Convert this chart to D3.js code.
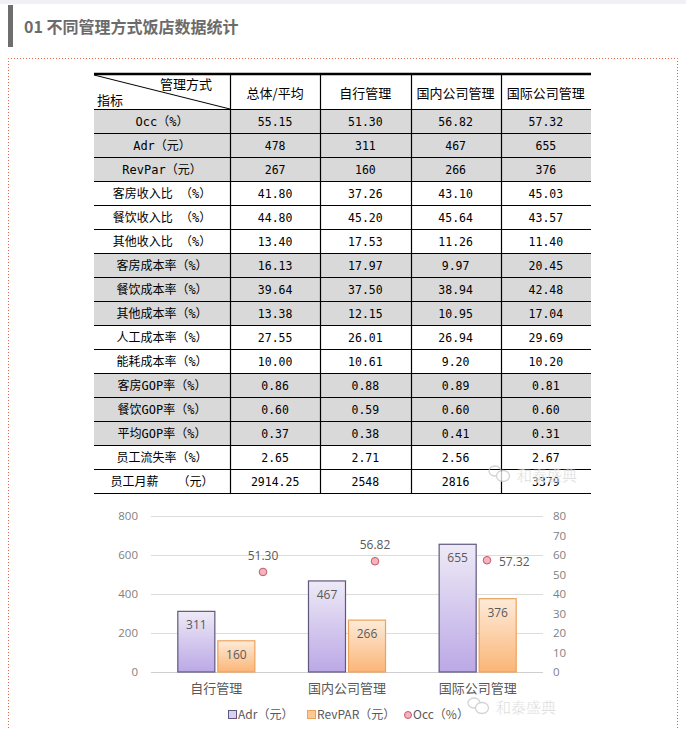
<!DOCTYPE html>
<html lang="zh">
<head>
<meta charset="UTF-8">
<script src="https://cdn.jsdelivr.net/npm/d3@7"></script>
<title>不同管理方式饭店数据统计</title>
<style>
    body { margin: 0; background: #fff; }
    svg { display: block; }
</style>
</head>
<body>
<script>
// ---- data ----
let colHeaders = ["总体/平均", "自行管理", "国内公司管理", "国际公司管理"]
let rowLabels = ["Occ（%）", "Adr（元）", "RevPar（元）", "客房收入比 （%）", "餐饮收入比 （%）",
    "其他收入比 （%）", "客房成本率（%）", "餐饮成本率（%）", "其他成本率（%）", "人工成本率（%）",
    "能耗成本率（%）", "客房GOP率（%）", "餐饮GOP率（%）", "平均GOP率（%）", "员工流失率（%）", "员工月薪　 （元）"]
let totalVals = ["55.15", "478", "267", "41.80", "44.80", "13.40", "16.13", "39.64", "13.38", "27.55", "10.00", "0.86", "0.60", "0.37", "2.65", "2914.25"]
let selfVals = ["51.30", "311", "160", "37.26", "45.20", "17.53", "17.97", "37.50", "12.15", "26.01", "10.61", "0.88", "0.59", "0.38", "2.71", "2548"]
let domesticVals = ["56.82", "467", "266", "43.10", "45.64", "11.26", "9.97", "38.94", "10.95", "26.94", "9.20", "0.89", "0.60", "0.41", "2.56", "2816"]
let intlVals = ["57.32", "655", "376", "45.03", "43.57", "11.40", "20.45", "42.48", "17.04", "29.69", "10.20", "0.81", "0.60", "0.31", "2.67", "3379"]
let shadedRows = [0, 1, 2, 6, 7, 8, 11, 12, 13]

let categories = ["自行管理", "国内公司管理", "国际公司管理"]
let adrVals = [311, 467, 655]
let revparVals = [160, 266, 376]
let occVals = [51.30, 56.82, 57.32]
let leftTicks = [0, 200, 400, 600, 800]
let rightTicks = [0, 10, 20, 30, 40, 50, 60, 70, 80]

let width = 686
let height = 730
let cjk = "'Noto Sans CJK SC', sans-serif"
let mono = "'DejaVu Sans Mono', 'Noto Sans CJK SC', monospace"

let svg = d3.select("body").append("svg")
    .attr("width", width)
    .attr("height", height)

// ---- page header ----
svg.append("rect").attr("x", 0).attr("y", 0).attr("width", width).attr("height", 4).attr("fill", "#eff1f4")
svg.append("rect").attr("x", 8).attr("y", 5).attr("width", 5).attr("height", 42).attr("fill", "#6e6e6e")
svg.append("text")
    .attr("x", 24).attr("y", 33)
    .attr("font-family", cjk).attr("font-size", 16).attr("font-weight", "bold")
    .attr("fill", "#6b6b6b")
    .text("01 不同管理方式饭店数据统计")

svg.append("path")
    .attr("d", "M8.5,740V58.5H677.5V740")
    .attr("fill", "none")
    .attr("stroke", "#e0694a")
    .attr("stroke-width", 1)
    .attr("stroke-dasharray", "1,2")

// ---- table ----
let tLeft = 94, tRight = 591, tTop = 73, headBottom = 109
let firstColRight = 230
let colX = d3.scaleBand().domain(d3.range(colHeaders.length)).range([firstColRight, tRight])
let rowY = d3.scaleBand().domain(d3.range(rowLabels.length)).range([headBottom, headBottom + 24 * rowLabels.length])
let columns = [totalVals, selfVals, domesticVals, intlVals]

let table = svg.append("g")

table.selectAll("rect.shade")
    .data(shadedRows)
    .join("rect")
    .attr("class", "shade")
    .attr("x", tLeft).attr("width", tRight - tLeft)
    .attr("y", d => rowY(d)).attr("height", rowY.bandwidth())
    .attr("fill", "#d9d9d9")

// horizontal lines
table.selectAll("line.h")
    .data(d3.range(rowLabels.length + 1))
    .join("line")
    .attr("class", "h")
    .attr("x1", tLeft).attr("x2", tRight)
    .attr("y1", d => Math.round(rowY(d) || rowY.range()[1]) + 0.5)
    .attr("y2", d => Math.round(rowY(d) || rowY.range()[1]) + 0.5)
    .attr("stroke", "#000").attr("stroke-width", 1.2)

table.append("line")
    .attr("x1", tLeft).attr("x2", tRight)
    .attr("y1", tTop + 1).attr("y2", tTop + 1)
    .attr("stroke", "#000").attr("stroke-width", 2.5)

// vertical lines
table.selectAll("line.v")
    .data(d3.range(colHeaders.length))
    .join("line")
    .attr("class", "v")
    .attr("x1", d => Math.round(colX(d)) + 0.5).attr("x2", d => Math.round(colX(d)) + 0.5)
    .attr("y1", tTop).attr("y2", rowY.range()[1])
    .attr("stroke", "#000").attr("stroke-width", 1.2)

// header diagonal
table.append("line")
    .attr("x1", tLeft).attr("y1", tTop + 2)
    .attr("x2", firstColRight).attr("y2", headBottom)
    .attr("stroke", "#000").attr("stroke-width", 1)

table.append("text")
    .attr("x", 212).attr("y", 89)
    .attr("text-anchor", "end")
    .attr("font-family", cjk).attr("font-size", 13)
    .text("管理方式")
table.append("text")
    .attr("x", 97).attr("y", 105)
    .attr("font-family", cjk).attr("font-size", 13)
    .text("指标")

table.selectAll("text.colhead")
    .data(colHeaders)
    .join("text")
    .attr("class", "colhead")
    .attr("x", (d, i) => colX(i) + colX.bandwidth() / 2)
    .attr("y", 98)
    .attr("text-anchor", "middle")
    .attr("font-family", cjk).attr("font-size", 13)
    .text(d => d)

table.selectAll("text.rowlabel")
    .data(rowLabels)
    .join("text")
    .attr("class", "rowlabel")
    .attr("x", (tLeft + firstColRight) / 2)
    .attr("y", (d, i) => rowY(i) + rowY.bandwidth() / 2 + 4.5)
    .attr("text-anchor", "middle")
    .attr("font-family", mono).attr("font-size", 12)
    .text(d => d)

columns.forEach((vals, c) => {
    table.selectAll("text.col" + c)
        .data(vals)
        .join("text")
        .attr("class", "col" + c)
        .attr("x", colX(c) + colX.bandwidth() / 2)
        .attr("y", (d, i) => rowY(i) + rowY.bandwidth() / 2 + 4.5)
        .attr("text-anchor", "middle")
        .attr("font-family", mono).attr("font-size", 11.5)
        .text(d => d)
})

// ---- chart ----
let plotLeft = 151, plotRight = 543, plotTop = 516, plotBottom = 672
let yLeft = d3.scaleLinear().domain([0, 800]).range([plotBottom, plotTop])
let yRight = d3.scaleLinear().domain([0, 80]).range([plotBottom, plotTop])
let x0 = d3.scaleBand().domain(categories).range([plotLeft, plotRight])
let x1 = d3.scaleBand().domain(["adr", "revpar"]).range([0, x0.bandwidth()]).paddingInner(0.075).paddingOuter(0.67)
let xOcc = d3.scaleBand().domain(categories).range([207, plotRight])

let defs = svg.append("defs")
let gAdr = defs.append("linearGradient").attr("id", "gAdr").attr("x1", 0).attr("y1", 0).attr("x2", 0).attr("y2", 1)
gAdr.append("stop").attr("offset", "0%").attr("stop-color", "#eeeaf6")
gAdr.append("stop").attr("offset", "100%").attr("stop-color", "#bba8e6")
let gRev = defs.append("linearGradient").attr("id", "gRev").attr("x1", 0).attr("y1", 0).attr("x2", 0).attr("y2", 1)
gRev.append("stop").attr("offset", "0%").attr("stop-color", "#fdebd9")
gRev.append("stop").attr("offset", "100%").attr("stop-color", "#fbb577")

let chart = svg.append("g")

chart.selectAll("line.grid")
    .data(leftTicks)
    .join("line")
    .attr("class", "grid")
    .attr("x1", plotLeft).attr("x2", plotRight)
    .attr("y1", d => Math.round(yLeft(d)) + 0.5).attr("y2", d => Math.round(yLeft(d)) + 0.5)
    .attr("stroke", d => d === 0 ? "#cfcfcf" : "#dcdcdc")

let axL = chart.append("g")
    .attr("transform", `translate(${plotLeft},0)`)
    .call(d3.axisLeft(yLeft).tickValues(leftTicks).tickSize(0).tickPadding(13))
let axR = chart.append("g")
    .attr("transform", `translate(${plotRight},0)`)
    .call(d3.axisRight(yRight).tickValues(rightTicks).tickSize(0).tickPadding(10))
;[axL, axR].forEach(ax => {
    ax.select(".domain").remove()
    ax.selectAll("text")
        .attr("font-family", "'Open Sans', sans-serif").attr("font-size", 11.5)
        .attr("fill", "#7f7f7f")
})

chart.selectAll("rect.adr")
    .data(adrVals)
    .join("rect")
    .attr("class", "adr")
    .attr("x", (d, i) => x0(categories[i]) + x1("adr"))
    .attr("width", x1.bandwidth())
    .attr("y", d => yLeft(d))
    .attr("height", d => plotBottom - yLeft(d))
    .attr("fill", "url(#gAdr)")
    .attr("stroke", "#60577f").attr("stroke-width", 1.2)

chart.selectAll("rect.rev")
    .data(revparVals)
    .join("rect")
    .attr("class", "rev")
    .attr("x", (d, i) => x0(categories[i]) + x1("revpar"))
    .attr("width", x1.bandwidth())
    .attr("y", d => yLeft(d))
    .attr("height", d => plotBottom - yLeft(d))
    .attr("fill", "url(#gRev)")
    .attr("stroke", "#eda25a").attr("stroke-width", 1.2)

let barLabel = (sel, vals, key) => sel.selectAll("text." + key)
    .data(vals)
    .join("text")
    .attr("class", key)
    .attr("x", (d, i) => x0(categories[i]) + x1(key) + x1.bandwidth() / 2)
    .attr("y", d => yLeft(d) + 18)
    .attr("text-anchor", "middle")
    .attr("font-family", "'Open Sans', sans-serif").attr("font-size", 12)
    .attr("fill", "#595959")
    .text(d => d)
barLabel(chart, adrVals, "adr")
barLabel(chart, revparVals, "revpar")

chart.selectAll("circle.occ")
    .data(occVals)
    .join("circle")
    .attr("class", "occ")
    .attr("cx", (d, i) => xOcc(categories[i]) + xOcc.bandwidth() / 2)
    .attr("cy", d => yRight(d))
    .attr("r", 3.8)
    .attr("fill", "#f3b3bf")
    .attr("stroke", "#c35a66").attr("stroke-width", 1)

chart.selectAll("text.occ")
    .data(occVals)
    .join("text")
    .attr("class", "occ")
    .attr("x", (d, i) => xOcc(categories[i]) + xOcc.bandwidth() / 2 + (i === occVals.length - 1 ? 12 : 0))
    .attr("y", (d, i) => yRight(d) + (i === occVals.length - 1 ? 6 : -12))
    .attr("text-anchor", (d, i) => i === occVals.length - 1 ? "start" : "middle")
    .attr("font-family", "'Open Sans', sans-serif").attr("font-size", 12)
    .attr("fill", "#595959")
    .text(d => d.toFixed(2))

chart.selectAll("text.cat")
    .data(categories)
    .join("text")
    .attr("class", "cat")
    .attr("x", d => x0(d) + x0.bandwidth() / 2)
    .attr("y", 693)
    .attr("text-anchor", "middle")
    .attr("font-family", cjk).attr("font-size", 13)
    .attr("fill", "#595959")
    .text(d => d)

// legend
let legend = chart.append("g").attr("font-family", cjk).attr("font-size", 12).attr("fill", "#595959")
legend.append("rect").attr("x", 228.5).attr("y", 710.5).attr("width", 8).attr("height", 8)
    .attr("fill", "#d9d0f0").attr("stroke", "#60577f")
legend.append("text").attr("x", 238).attr("y", 719).text("Adr（元）")
legend.append("rect").attr("x", 307.5).attr("y", 710.5).attr("width", 8).attr("height", 8)
    .attr("fill", "#fcc995").attr("stroke", "#eda25a")
legend.append("text").attr("x", 317).attr("y", 719).text("RevPAR（元）")
legend.append("circle").attr("cx", 408).attr("cy", 715).attr("r", 3.5)
    .attr("fill", "#f3b3bf").attr("stroke", "#c35a66")
legend.append("text").attr("x", 413).attr("y", 719).text("Occ（%）")

// watermarks
let mark = (x, y) => {
    let g = svg.append("g").attr("transform", `translate(${x},${y})`).attr("opacity", 0.75)
    g.append("ellipse").attr("cx", 6).attr("cy", -5).attr("rx", 6).attr("ry", 5)
        .attr("fill", "none").attr("stroke", "#c4c4c4").attr("stroke-width", 1.3)
    g.append("ellipse").attr("cx", 14).attr("cy", 0).attr("rx", 6.5).attr("ry", 5.5)
        .attr("fill", "#fff").attr("stroke", "#c4c4c4").attr("stroke-width", 1.3)
    g.append("text").attr("x", 28).attr("y", 5)
        .attr("font-family", cjk).attr("font-size", 15)
        .attr("fill", "#c8c8c8").attr("stroke", "#fff").attr("stroke-width", 0.4)
        .text("和泰盛典")
}
mark(489, 476)
mark(468, 708)
</script>
</body>
</html>
